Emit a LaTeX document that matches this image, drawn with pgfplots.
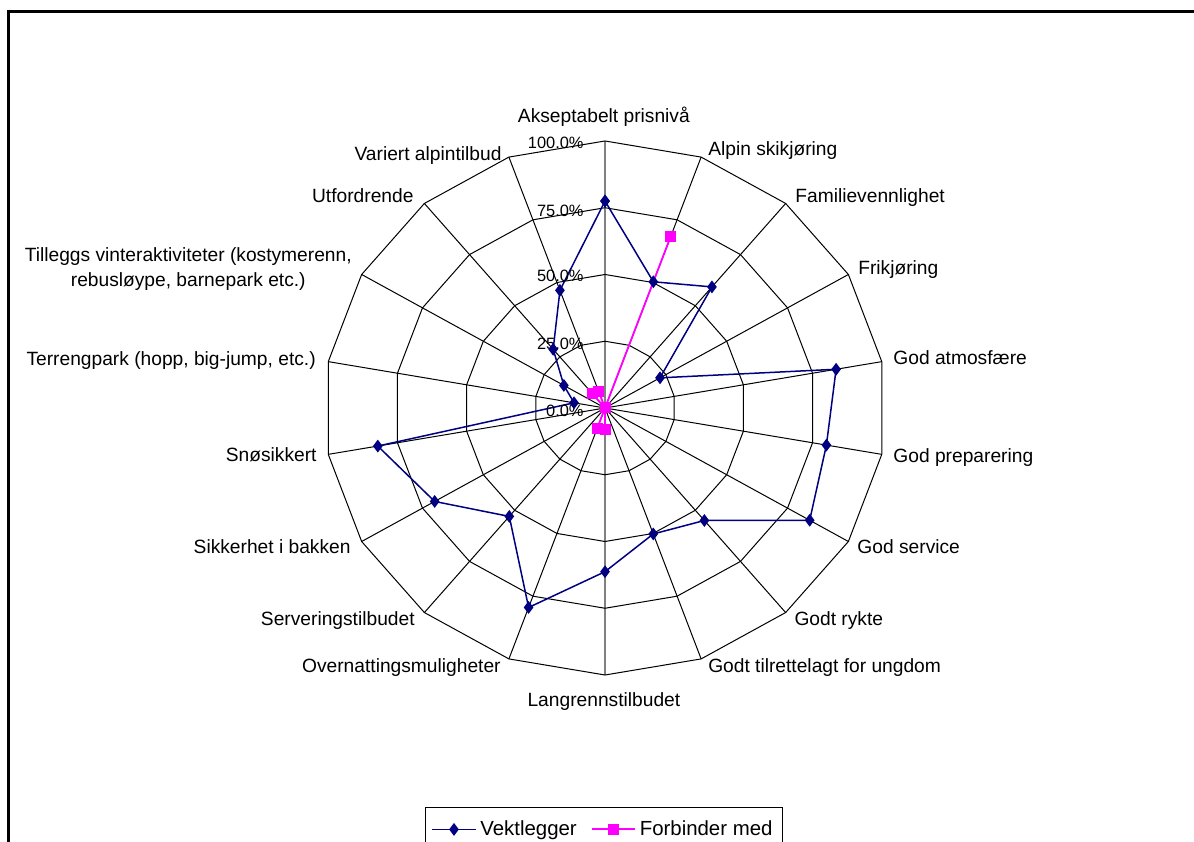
\documentclass[border=0pt]{standalone}
\usepackage{fontspec}
\setmainfont{Liberation Sans}
\usepackage{pgfplots}
\pgfplotsset{compat=1.18}
\definecolor{vekt}{RGB}{0,0,128}
\definecolor{forb}{RGB}{255,0,255}
\definecolor{axgray}{RGB}{128,128,128}

\begin{document}
\begin{tikzpicture}[
  catlabel/.style={font=\fontsize{9.6}{12.5}\selectfont, inner sep=0pt},
  ticklabel/.style={font=\fontsize{8.2}{10}\selectfont, inner sep=0pt, anchor=mid east},
]
\begin{axis}[
  x=1.405pt, y=1.335pt,
  xmin=-215.3, xmax=209.6, ymin=-162.2, ymax=152.8,
  hide axis, clip=false, enlargelimits=false,
  legend columns=2,
  legend style={at={(0.5059,0.0404)}, anchor=north, draw=black,
    font=\fontsize{10.2}{12}\selectfont, inner xsep=3pt, inner ysep=4.5pt,
    /tikz/every even column/.append style={column sep=5pt}},
  legend image code/.code={\draw[mark repeat=2,mark phase=2,#1]
    plot coordinates {(0cm,0cm) (0.38cm,0cm) (0.76cm,0cm)};},
]
% grid: spokes
\pgfplotsinvokeforeach{70,50,30,10,-10,-30,-50,-70,-110,-130,-150,-170,-190,-210,-230,-250}{
  \addplot[black, line width=0.5pt, data cs=polar, forget plot] coordinates {(0,0) (#1,100)};
}
\addplot[axgray, line width=0.8pt, data cs=polar, forget plot] coordinates {(0,0) (90,100)};
\addplot[axgray, line width=0.8pt, data cs=polar, forget plot] coordinates {(0,0) (-90,100)};
% grid: rings
\pgfplotsinvokeforeach{25,50,75,100}{
  \addplot[black, line width=0.5pt, data cs=polar, forget plot] coordinates {
    (90,#1) (70,#1) (50,#1) (30,#1) (10,#1) (-10,#1) (-30,#1) (-50,#1) (-70,#1)
    (-90,#1) (-110,#1) (-130,#1) (-150,#1) (-170,#1) (-190,#1) (-210,#1) (-230,#1)
    (-250,#1) (90,#1)};
}

% series (angle = 90 - 20*i, value in percent)
\addplot[vekt, line width=0.75pt, mark=diamond*, mark size=2.6pt,
  mark options={solid, fill=vekt}, data cs=polar] coordinates {
  (90,77.5) (70,50.3) (50,59.2) (30,22.6) (10,83.5) (-10,80) (-30,84.1)
  (-50,55) (-70,50.2) (-90,61.3) (-110,79.5) (-130,53) (-150,70) (-170,82.1)
  (-190,11.2) (-210,16.9) (-230,28.7) (-250,46.9) (90,77.5)};
\addlegendentry{Vektlegger}
\addplot[forb, line width=0.9pt, mark=square*, mark size=2.3pt,
  mark options={solid, fill=forb}, data cs=polar] coordinates {
  (90,0) (70,68.3) (50,0) (30,0) (10,0) (-10,0) (-30,0)
  (-50,0) (-70,0) (-90,8) (-110,8) (-130,0) (-150,0) (-170,0)
  (-190,0) (-210,0) (-230,7) (-250,6.5) (90,0)};
\addlegendentry{Forbinder med}

% value labels
\node[ticklabel] at (axis cs:-7.5,99.2) {100.0\%};
\node[ticklabel] at (axis cs:-7.5,73.8) {75.0\%};
\node[ticklabel] at (axis cs:-7.5,49.2) {50.0\%};
\node[ticklabel] at (axis cs:-7.5,23.9) {25.0\%};
\node[ticklabel] at (axis cs:-7.5,-1.1) {0.0\%};

% category labels
\node[catlabel, anchor=mid] at (axis cs:-0.4,109.0) {Akseptabelt prisnivå};
\node[catlabel, anchor=mid west] at (axis cs:36.6,96.6) {Alpin skikjøring};
\node[catlabel, anchor=mid west] at (axis cs:67.6,79.0) {Familievennlighet};
\node[catlabel, anchor=mid west] at (axis cs:90.0,52.1) {Frikjøring};
\node[catlabel, anchor=mid west] at (axis cs:102.5,18.4) {God atmosfære};
\node[catlabel, anchor=mid west] at (axis cs:102.5,-18.4) {God preparering};
\node[catlabel, anchor=mid west] at (axis cs:89.7,-52.4) {God service};
\node[catlabel, anchor=mid west] at (axis cs:67.3,-79.4) {Godt rykte};
\node[catlabel, anchor=mid west] at (axis cs:36.6,-97.0) {Godt tilrettelagt for ungdom};
\node[catlabel, anchor=mid] at (axis cs:-0.4,-109.7) {Langrennstilbudet};
\node[catlabel, anchor=mid east] at (axis cs:-37.0,-97.0) {Overnattingsmuligheter};
\node[catlabel, anchor=mid east] at (axis cs:-67.6,-79.4) {Serveringstilbudet};
\node[catlabel, anchor=mid east] at (axis cs:-90.4,-52.4) {Sikkerhet i bakken};
\node[catlabel, anchor=mid east] at (axis cs:-102.5,-18.0) {Snøsikkert};
\node[catlabel, anchor=mid east] at (axis cs:-102.8,18.0) {Terrengpark (hopp, big-jump, etc.)};
\node[catlabel, anchor=east, align=center] at (axis cs:-90.0,52.1)
  {Tilleggs vinteraktiviteter (kostymerenn,\\rebusløype, barnepark etc.)};
\node[catlabel, anchor=mid east] at (axis cs:-68.0,79.0) {Utfordrende};
\node[catlabel, anchor=mid east] at (axis cs:-36.7,94.5) {Variert alpintilbud};

% outer frame
\draw[line width=1.4pt] (axis cs:-212.2,-200) -- (axis cs:-212.2,148.4) -- (axis cs:260,148.4);
\end{axis}
\pgfresetboundingbox
\path (current axis.south west) rectangle (current axis.north east);
\end{tikzpicture}
\end{document}
